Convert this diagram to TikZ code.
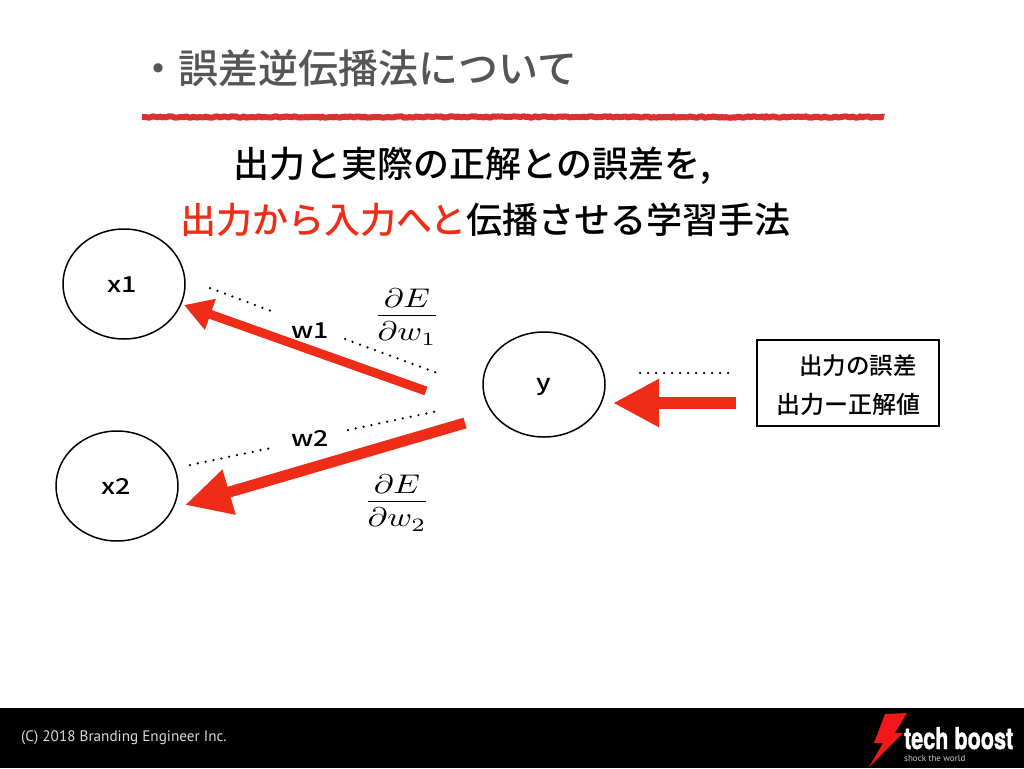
\documentclass[tikz,border=0pt]{standalone}
\usepackage{amsmath}
\usepackage[no-math]{fontspec}
\setmainfont{Noto Sans CJK JP}[BoldFont={Noto Sans CJK JP Medium}]
\newfontfamily\footfont{PT Sans}
\newfontfamily\logofont{TeX Gyre Heros}[FakeBold=1.5]
\usetikzlibrary{arrows.meta,shapes.geometric,decorations.pathmorphing}
\definecolor{titlegray}{HTML}{555555}
\definecolor{linered}{HTML}{DD3030}
\definecolor{arrowred}{HTML}{EE2C18}
\definecolor{boltred}{HTML}{F01818}
\tikzset{
  neuron/.style={draw,ellipse,line width=1.5pt,minimum width=122pt,minimum height=110pt,inner sep=0pt},
  weight/.style={xscale=1.22,font=\bfseries\fontsize{22}{22}\selectfont,inner sep=0pt},
  lead/.style={anchor=west,inner sep=0pt,font=\bfseries\fontsize{36}{36}\selectfont},
  deriv/.style={xscale=3.35,yscale=2.7,inner sep=0pt},
  dots/.style={black,line width=2.5pt,line cap=round,dash pattern=on 0pt off 8pt},
}
\begin{document}
\begin{tikzpicture}[x=1pt,y=-1pt]
  \useasboundingbox (0,0) rectangle (1024,768);
  % footer
  \fill[black] (0,708) rectangle (1024,768);
  \node[anchor=west,inner sep=0pt,text=white!85!black,font=\footfont\fontsize{15.2}{15.2}\selectfont] (copy) at (21,738) {(C) 2018 Branding Engineer Inc.};
  \fill[boltred] (885,714) -- (907,713) -- (895,733) -- (903,733) -- (869,767) -- (883,743) -- (874,743) -- cycle;
  \node[anchor=base west,inner sep=0pt,text=white,xscale=0.72,font=\logofont\bfseries\fontsize{30}{30}\selectfont] (brand) at (904,749) {tech boost};
  \node[anchor=base west,inner sep=0pt,text=white!80!black,font=\footfont\fontsize{9}{9}\selectfont] (motto) at (904,761) {shock the world};
  % heading
  \node[lead,text=titlegray,font=\bfseries\fontsize{40}{40}\selectfont] (title) at (138,68) {・誤差逆伝播法について};
  \coordinate (ruleL) at (142,117);
  \coordinate (ruleR) at (884,117);
  \draw[linered,line width=6pt,line join=round,decorate,decoration={random steps,segment length=2pt,amplitude=0.8pt}] (ruleL) -- (ruleR);
  \node[lead] (line1) at (233,166) {出力と実際の正解との誤差を,};
  \node[lead] (line2) at (180,220) {\textcolor{arrowred}{出力から入力へと}伝播させる学習手法};
  % units
  \node[neuron] (x1) at (124,284) {};
  \node[neuron] (x2) at (117,486) {};
  \node[neuron,minimum height=105pt] (y) at (544,384.5) {};
  \node[weight] (x1t) at (122.5,285) {x1};
  \node[weight] (x2t) at (116,486) {x2};
  \node[weight] (yt) at (544,387) {y};
  \node[draw,line width=1.5pt,minimum width=182pt,minimum height=86pt,inner sep=0pt] (err) at (848,383) {};
  \node[inner sep=0pt,font=\bfseries\fontsize{23.5}{23.5}\selectfont] (err1) at (858,366) {出力の誤差};
  \node[inner sep=0pt,font=\bfseries\fontsize{24}{24}\selectfont] (err2) at (848,404) {出力ー正解値};
  % arrows
  \coordinate (a1s) at (426,391);
  \coordinate (a1e) at (184,305);
  \coordinate (a2s) at (465,423);
  \coordinate (a2e) at (185,505);
  \coordinate (a3s) at (736,403);
  \coordinate (a3e) at (613,403);
  \draw[arrowred,line width=9pt,-{Triangle[length=28pt,width=31pt]}] (a1s) -- (a1e);
  \draw[arrowred,line width=11pt,-{Triangle[length=46pt,width=44pt]}] (a2s) -- (a2e);
  \draw[arrowred,line width=12pt,-{Triangle[length=46pt,width=45pt]}] (a3s) -- (a3e);
  % dotted guides
  \coordinate (d1a) at (210,288);
  \coordinate (d1b) at (271,311);
  \coordinate (d2a) at (345,339);
  \coordinate (d2b) at (440,374);
  \coordinate (d3a) at (190,465);
  \coordinate (d3b) at (271,448);
  \coordinate (d4a) at (348,430);
  \coordinate (d4b) at (438,411);
  \coordinate (d5a) at (640,373);
  \coordinate (d5b) at (734,373);
  \draw[dots] (d1a) -- (d1b);
  \draw[dots] (d2a) -- (d2b);
  \draw[dots] (d3a) -- (d3b);
  \draw[dots] (d4a) -- (d4b);
  \draw[dots] (d5a) -- (d5b);
  % labels
  \node[weight] (w1) at (310,331) {w1};
  \node[weight] (w2) at (310,438) {w2};
  \node[deriv] (grad1) at (407,317) {$\dfrac{\lower1.3pt\hbox{$\partial E$}}{\partial w_1}$};
  \node[deriv] (grad2) at (397,503) {$\dfrac{\lower1.3pt\hbox{$\partial E$}}{\partial w_2}$};
\end{tikzpicture}
\end{document}
